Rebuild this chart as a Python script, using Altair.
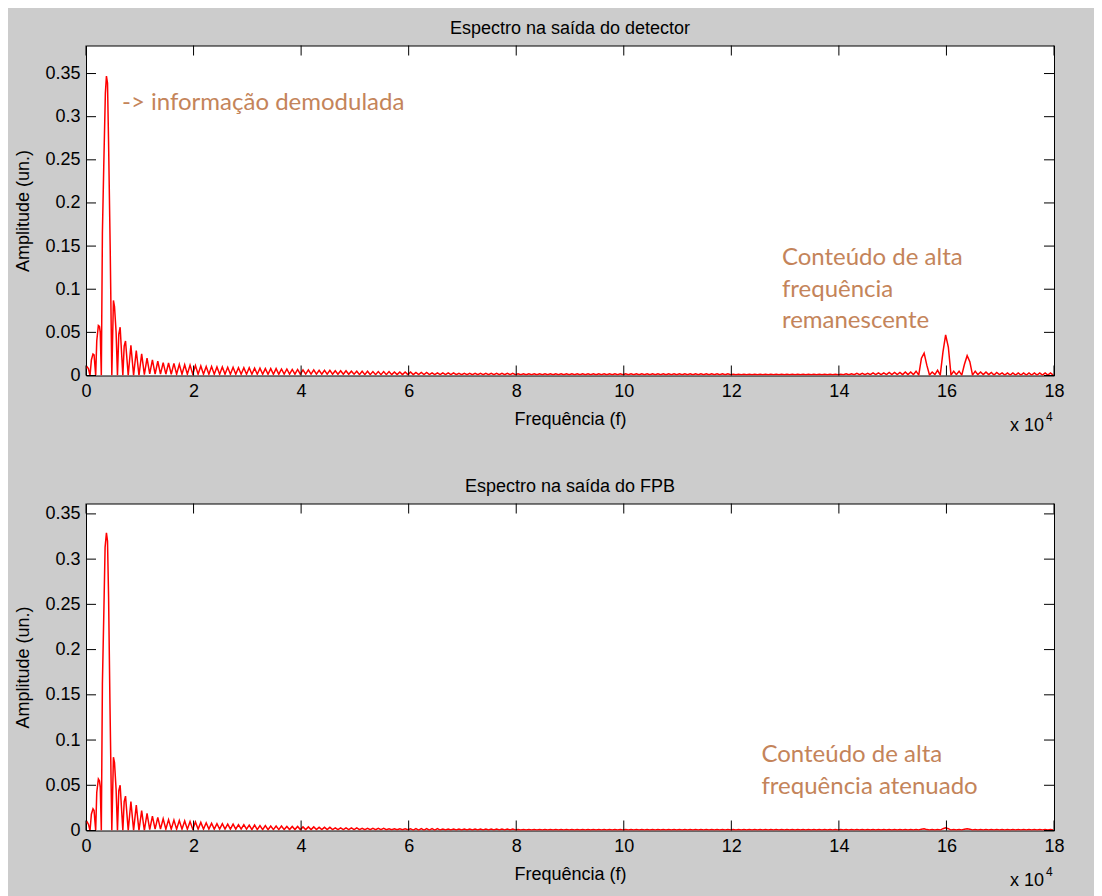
import altair as alt
import pandas as pd

# ---------------- data (frequency in kHz, amplitude in "un.") ----------------
# detailed low-frequency region (0 - 12 kHz)
top_low_khz = [0.0, 0.2, 0.45, 0.75, 1.0, 1.3, 1.5, 1.8, 2.0, 2.3, 2.5, 2.65, 2.85,
               3.05, 3.3, 3.6, 3.8, 4.0, 4.2, 4.5, 4.8, 5.1, 5.3, 5.6, 5.85, 6.1,
               6.35, 6.85, 7.1, 7.35, 7.85, 8.35, 8.85, 9.35, 9.85, 10.35, 10.85,
               11.35, 11.85]
top_low_amp = [0.008, 0.010, 0.008, 0.0, 0.018, 0.025, 0.024, 0.0, 0.040, 0.058,
               0.057, 0.050, 0.0, 0.165, 0.242, 0.327, 0.347, 0.339, 0.269, 0.147,
               0.0, 0.087, 0.080, 0.050, 0.0, 0.048, 0.056, 0.0, 0.034, 0.040, 0.0,
               0.035, 0.0, 0.029, 0.0, 0.025, 0.001, 0.020, 0.002]

bot_low_khz = [0.0, 0.2, 0.45, 0.75, 1.0, 1.3, 1.5, 1.8, 2.0, 2.3, 2.5, 2.65, 2.85,
               3.05, 3.3, 3.55, 3.8, 4.0, 4.2, 4.45, 4.8, 5.1, 5.3, 5.6, 5.85, 6.1,
               6.35, 6.85, 7.1, 7.35, 7.85, 8.35, 8.85, 9.35, 9.85, 10.35, 10.85,
               11.35, 11.85]
bot_low_amp = [0.008, 0.0095, 0.007, 0.0, 0.018, 0.024, 0.022, 0.0, 0.042, 0.057,
               0.055, 0.048, 0.0, 0.162, 0.236, 0.313, 0.329, 0.320, 0.258, 0.142,
               0.0, 0.081, 0.075, 0.045, 0.0, 0.044, 0.050, 0.0, 0.032, 0.038, 0.0,
               0.032, 0.0, 0.028, 0.0, 0.022, 0.0, 0.019, 0.001]

# tail: one 1-kHz lobe per entry, starting at 12 kHz (lobe top, then lobe bottom),
# amplitudes in thousandths
tail_first_lobe_khz = 12
top_tail_peaks_milli = [
    18, 16.5, 15, 14.5, 14, 13, 12.5, 12,
    11.5, 11, 10.5, 10.5, 10, 10, 9.5, 9.5, 9, 9,
    9, 8.5, 8.5, 8, 8, 8, 7.5, 7.5, 7, 7,
    6.5, 6.5, 6.5, 6, 6, 6, 5.5, 5.5, 5.5, 5,
    5, 5, 5, 4.5, 4.5, 4.5, 4.5, 4, 4, 4,
    4, 3.5, 3.5, 3.5, 3, 3, 3, 3, 3, 2.5,
    2.5, 2.5, 2.5, 2.5, 2.5, 2.5, 2.5, 2.5, 2.5, 2.5,
    2, 2, 2, 2, 2, 2, 2, 2, 2, 2,
    2, 2, 2, 2, 2, 2, 2, 2, 2, 2,
    2, 2, 2, 2, 2, 2, 2, 2, 2, 2,
    2, 2, 2, 2, 2, 2, 2, 2, 2, 2,
    1.5, 1.5, 1.5, 1.5, 1.5, 1.5, 1.5, 1.5, 1.5, 1.5,
    1.5, 1.5, 1.5, 1.5, 1.5, 1.5, 1.5, 1.5, 1.5, 1.5,
    1.5, 2, 2, 2.5, 2.5, 2.5, 3, 3, 3, 3.5,
    3.5, 3.5, 4, 4, 5, 20, 12, 4, 6, 27,
    33, 5, 5, 13, 16, 5, 4, 4, 3.5, 3.5,
    3, 3, 3, 3, 3, 3, 3, 3, 3, 3]
top_tail_troughs_milli = [
    1.5, 1.5, 1.5, 1.5, 1.5, 1.5, 1.5, 1.5,
    1.5, 1.5, 1.5, 1.5, 1.5, 1.5, 1.5, 1.5, 1.5, 1.5,
    1.5, 1.5, 1.5, 1.5, 1.5, 1.5, 1.5, 1.5, 1.5, 1.5,
    1.5, 1.5, 1.5, 1.5, 1.5, 1.5, 1.5, 1.5, 1.5, 1.5,
    1, 1, 1, 1, 1, 1, 1, 1, 1, 1,
    1, 1, 1, 1, 1, 1, 1, 1, 1, 1,
    1, 1, 1, 1, 1, 1, 1, 1, 1, 1,
    1, 1, 1, 1, 1, 1, 1, 1, 1, 1,
    1, 1, 1, 1, 1, 1, 1, 1, 1, 1,
    1, 1, 1, 1, 1, 1, 1, 1, 1, 1,
    1, 1, 1, 1, 1, 1, 1, 1, 1, 1,
    1, 1, 1, 1, 1, 1, 1, 1, 1, 1,
    1, 1, 1, 1, 1, 1, 1, 1, 1, 1,
    1, 1, 1, 1, 1, 1, 1, 1, 1, 1,
    1, 1, 1, 1, 0.5, 26, 0.5, 1, 0.5, 47,
    0.5, 1, 0.5, 23, 0.5, 1, 1, 1, 0.5, 1,
    0.5, 0.5, 0.5, 0.5, 0.5, 0.5, 0.5, 0.5, 0.5, 0.5]

bot_tail_peaks_milli = [
    16, 14.5, 13, 12, 11.5, 11, 10.5, 10,
    9.5, 9, 8.5, 8, 7.5, 7.5, 7, 7, 6.5, 6.5,
    6, 6, 5.5, 5.5, 5, 5, 5, 4.5, 4.5, 4.5,
    4, 4, 4, 3.5, 3.5, 3.5, 3, 3, 3, 3,
    3, 2.5, 2.5, 2.5, 2.5, 2.5, 2, 2, 2, 2,
    2, 2, 2, 2, 2, 2, 1.5, 1.5, 1.5, 1.5,
    1.5, 1.5, 1.5, 1.5, 1.5, 1.5, 1.5, 1.5, 1.5, 1.5,
    1, 1, 1, 1, 1, 1, 1, 1, 1, 1,
    1, 1, 1, 1, 1, 1, 1, 1, 1, 1,
    1, 1, 1, 1, 1, 1, 1, 1, 1, 1,
    1, 1, 1, 1, 1, 1, 1, 1, 1, 1,
    1, 1, 1, 1, 1, 1, 1, 1, 1, 1,
    1, 1, 1, 1, 1, 1, 1, 1, 1, 1,
    1, 1, 1, 1, 1, 1, 1, 1, 1, 1,
    1, 1, 1, 1, 1, 1.5, 1, 1, 1, 2,
    2, 1, 1, 1.5, 1.5, 1, 1, 1, 1, 1,
    1, 1, 1, 1, 1, 1, 1, 1, 1, 1]
bot_tail_troughs_milli = [
    1.5, 1.5, 1.5, 1.5, 1.5, 1.5, 1.5, 1.5,
    1.5, 1.5, 1.5, 1.5, 1.5, 1.5, 1.5, 1.5, 1.5, 1.5,
    1, 1, 1, 1, 1, 1, 1, 1, 1, 1,
    1, 1, 1, 1, 1, 1, 1, 1, 1, 1,
    1, 1, 1, 1, 1, 1, 1, 1, 1, 1,
    0.5, 0.5, 0.5, 0.5, 0.5, 0.5, 0.5, 0.5, 0.5, 0.5,
    0.5, 0.5, 0.5, 0.5, 0.5, 0.5, 0.5, 0.5, 0.5, 0.5,
    0.5, 0.5, 0.5, 0.5, 0.5, 0.5, 0.5, 0.5, 0.5, 0.5,
    0.5, 0.5, 0.5, 0.5, 0.5, 0.5, 0.5, 0.5, 0.5, 0.5,
    0.5, 0.5, 0.5, 0.5, 0.5, 0.5, 0.5, 0.5, 0.5, 0.5,
    0.5, 0.5, 0.5, 0.5, 0.5, 0.5, 0.5, 0.5, 0.5, 0.5,
    0.5, 0.5, 0.5, 0.5, 0.5, 0.5, 0.5, 0.5, 0.5, 0.5,
    0.5, 0.5, 0.5, 0.5, 0.5, 0.5, 0.5, 0.5, 0.5, 0.5,
    0.5, 0.5, 0.5, 0.5, 0.5, 0.5, 0.5, 0.5, 0.5, 0.5,
    0.5, 0.5, 0.5, 0.5, 0.5, 2, 0.5, 0.5, 0.5, 3,
    0.5, 0.5, 0.5, 2, 0.5, 0.5, 0.5, 0.5, 0.5, 0.5,
    0.5, 0.5, 0.5, 0.5, 0.5, 0.5, 0.5, 0.5, 0.5, 0.5]

x_tick_values = [0, 20, 40, 60, 80, 100, 120, 140, 160, 180]   # kHz (0..18 x 10^4 Hz)
y_tick_values = [0, 0.05, 0.1, 0.15, 0.2, 0.25, 0.3, 0.35]
top_ymax = 0.3825
bot_ymax = 0.3615

top_title = "Espectro na saída do detector"
bot_title = "Espectro na saída do FPB"
x_title = "Frequência (f)"
y_title = "Amplitude (un.)"

top_notes = [
    {"f": 6.7, "a": 0.308, "lines": ["-> informação demodulada"]},
    {"f": 129.4, "a": 0.1279, "lines": ["Conteúdo de alta", "frequência", "remanescente"]},
]
bot_notes = [
    {"f": 125.6, "a": 0.0755, "lines": ["Conteúdo de alta", "frequência atenuado"]},
]


def spectrum_table(low_khz, low_amp, peaks, troughs):
    f = list(low_khz)
    a = list(low_amp)
    for i, (p, t) in enumerate(zip(peaks, troughs)):
        lobe = tail_first_lobe_khz + i
        f.extend([lobe + 0.35, lobe + 0.85])
        a.extend([p / 1000.0, t / 1000.0])
    return pd.DataFrame({"f": f, "a": a})


top_df = spectrum_table(top_low_khz, top_low_amp, top_tail_peaks_milli, top_tail_troughs_milli)
bot_df = spectrum_table(bot_low_khz, bot_low_amp, bot_tail_peaks_milli, bot_tail_troughs_milli)

# ---------------- styling ----------------
W = 968
FONT = "Liberation Sans"
NOTE_FONT = "Lato"
NOTE_COLOR = "#c4845a"
FS = 18


def panel(df, ymax, H, title, notes, exp_dy):
    xs = alt.Scale(domain=[0, 180], nice=False, zero=False)
    ys = alt.Scale(domain=[0, ymax], nice=False)
    xaxis = alt.Axis(values=x_tick_values, labelExpr="datum.value / 10", title=x_title,
                     labelPadding=7, titlePadding=10, labelFlush=False)
    yaxis = alt.Axis(values=y_tick_values, format="~g", title=y_title,
                     labelPadding=6, titlePadding=12)

    def X():
        return alt.X("f:Q", scale=xs, axis=xaxis)

    def Y():
        return alt.Y("a:Q", scale=ys, axis=yaxis)

    line = alt.Chart(df).mark_line(color="#ff0000", strokeWidth=1.5, clip=True).encode(
        x=X(), y=Y(), order="f:Q")
    xt = pd.DataFrame({"f": x_tick_values})
    yt = pd.DataFrame({"a": y_tick_values})
    tb = alt.Chart(xt).mark_rule(color="black", strokeWidth=1).encode(
        x=X(), y=alt.value(H), y2=alt.value(H - 10))
    tt = alt.Chart(xt).mark_rule(color="black", strokeWidth=1).encode(
        x=X(), y=alt.value(0), y2=alt.value(10))
    tl = alt.Chart(yt).mark_rule(color="black", strokeWidth=1).encode(
        y=Y(), x=alt.value(0), x2=alt.value(10))
    tr = alt.Chart(yt).mark_rule(color="black", strokeWidth=1).encode(
        y=Y(), x=alt.value(W), x2=alt.value(W - 10))

    note = alt.Chart(alt.Data(values=notes)).mark_text(
        align="left", baseline="alphabetic", font=NOTE_FONT, fontSize=24,
        color=NOTE_COLOR, lineHeight=31.5).encode(
        x=X(), y=Y(), text="lines:N")

    exp_base = alt.Chart(alt.Data(values=[{"t": "x 10"}])).mark_text(
        align="right", baseline="alphabetic", font=FONT, fontSize=FS, color="black").encode(
        x=alt.value(W - 10), y=alt.value(H + exp_dy), text="t:N")
    exp_sup = alt.Chart(alt.Data(values=[{"t": "4"}])).mark_text(
        align="left", baseline="alphabetic", font=FONT, fontSize=12, color="black").encode(
        x=alt.value(W - 8), y=alt.value(H + exp_dy - 10), text="t:N")

    return alt.layer(line, tb, tt, tl, tr, note, exp_base, exp_sup).properties(
        width=W, height=H,
        title=alt.TitleParams(title, font=FONT, fontSize=FS, fontWeight="normal",
                              color="black", anchor="middle", offset=-7,
                              baseline="alphabetic"),
    )


top = panel(top_df, top_ymax, 330, top_title, top_notes, 55)
bot = panel(bot_df, bot_ymax, 327, bot_title, bot_notes, 55)

chart = alt.vconcat(top, bot, spacing=128, bounds="flush").properties(
    padding={"left": 6, "top": 11.5, "right": 29, "bottom": 12},
    background="#cccccc",
).configure_view(
    fill="white", stroke="black", strokeWidth=1
).configure_axis(
    domain=False, grid=False, ticks=False, tickSize=0,
    labelFont=FONT, labelFontSize=FS, labelColor="black",
    titleFont=FONT, titleFontSize=FS, titleFontWeight="normal", titleColor="black",
)

chart.save("out.html", embed_options={"renderer": "svg", "actions": False})
